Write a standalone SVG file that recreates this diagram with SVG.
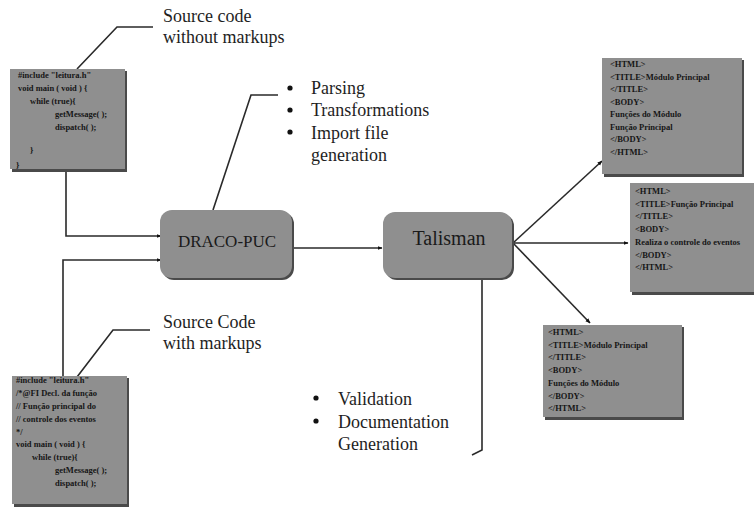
<svg xmlns="http://www.w3.org/2000/svg" width="754" height="507" viewBox="0 0 754 507" font-family="'Liberation Serif', 'Times New Roman', 'DejaVu Serif', serif">
<style>
.bg{fill:#ffffff}
.box{fill:#8f8f8f}
.shadow{fill:#4a4a4a}
text{font-family:"Liberation Serif","Times New Roman","DejaVu Serif",serif}
.code{font-size:8.5px;fill:#161616;font-weight:bold}
.lbl{font-size:18px;fill:#1e1e1e}
.node{fill:#1a1a1a}
.ln{fill:none;stroke:#2a2a2a;stroke-width:1.6}
</style>
<defs>
<marker id="arr" viewBox="0 0 10 10" refX="9" refY="5" markerWidth="5" markerHeight="5" orient="auto" markerUnits="userSpaceOnUse">
<path d="M0,1 L10,5 L0,9 Z" fill="#111"/>
</marker>
</defs>
<rect class="bg" x="0" y="0" width="754" height="507"/>

<g id="connectors">
<polyline class="ln" points="66,171 66,236 161,236" marker-end="url(#arr)"/>
<polyline class="ln" points="63,378 63,260 161,260" marker-end="url(#arr)"/>
<polyline class="ln" points="77,69 117,27 153,27"/>
<polyline class="ln" points="77,377 113,330 150,330"/>
<polyline class="ln" points="213,210 251,95 278,95"/>
<line class="ln" x1="292" y1="248" x2="382" y2="248" marker-end="url(#arr)"/>
<line class="ln" x1="513" y1="243" x2="602" y2="161" marker-end="url(#arr)"/>
<line class="ln" x1="513" y1="243" x2="628" y2="243" marker-end="url(#arr)"/>
<line class="ln" x1="513" y1="243" x2="590" y2="323" marker-end="url(#arr)"/>
<polyline class="ln" points="482,279 482,450 472,455"/>
</g>

<g id="src-plain">
<rect class="shadow" x="12" y="71" width="115" height="101"/>
<rect class="box" x="10" y="69" width="115" height="100"/>
<text class="code" x="18" y="78">#include "leitura.h"</text>
<text class="code" x="18" y="91">void main ( void ) {</text>
<text class="code" x="30" y="104">while (true){</text>
<text class="code" x="55" y="117">getMessage( );</text>
<text class="code" x="55" y="130">dispatch( );</text>
<text class="code" x="30" y="153">}</text>
<text class="code" x="16" y="168">}</text>
</g>

<g id="src-markup">
<rect class="shadow" x="14" y="378" width="115" height="129"/>
<rect class="box" x="12" y="376" width="115" height="128"/>
<text class="code" x="16" y="383">#include "leitura.h"</text>
<text class="code" x="16" y="396">/*@FI Decl. da função</text>
<text class="code" x="16" y="409">// Função principal do</text>
<text class="code" x="16" y="422">// controle dos eventos</text>
<text class="code" x="16" y="435">*/</text>
<text class="code" x="16" y="447">void main ( void ) {</text>
<text class="code" x="32" y="460">while (true){</text>
<text class="code" x="55" y="473">getMessage( );</text>
<text class="code" x="55" y="486">dispatch( );</text>
</g>

<g id="label-plain">
<text class="lbl" x="163" y="22">Source code</text>
<text class="lbl" x="163" y="43">without markups</text>
</g>

<g id="label-markup">
<text class="lbl" x="163" y="328">Source Code</text>
<text class="lbl" x="163" y="349">with markups</text>
</g>

<g id="draco-notes">
<circle cx="290" cy="88" r="2.6" fill="#111"/>
<circle cx="290" cy="110" r="2.6" fill="#111"/>
<circle cx="290" cy="132" r="2.6" fill="#111"/>
<text class="lbl" x="311" y="94">Parsing</text>
<text class="lbl" x="311" y="116">Transformations</text>
<text class="lbl" x="311" y="139">Import file</text>
<text class="lbl" x="311" y="161">generation</text>
</g>

<g id="draco">
<rect class="shadow" x="162" y="212" width="132" height="68" rx="12"/>
<rect class="box" x="160" y="210" width="132" height="68" rx="12"/>
<text class="node" x="227" y="247" font-size="17" text-anchor="middle">DRACO-PUC</text>
</g>

<g id="talisman">
<rect class="shadow" x="385" y="214" width="129" height="66" rx="12"/>
<rect class="box" x="383" y="212" width="129" height="66" rx="12"/>
<text class="node" x="449" y="245" font-size="20" text-anchor="middle">Talisman</text>
</g>

<g id="talisman-notes">
<circle cx="316" cy="398" r="2.6" fill="#111"/>
<circle cx="316" cy="421" r="2.6" fill="#111"/>
<text class="lbl" x="338" y="405">Validation</text>
<text class="lbl" x="338" y="428">Documentation</text>
<text class="lbl" x="338" y="450">Generation</text>
</g>

<g id="html1">
<rect class="shadow" x="604" y="60" width="140" height="117"/>
<rect class="box" x="602" y="58" width="140" height="116"/>
<text class="code" x="610" y="67">&lt;HTML&gt;</text>
<text class="code" x="610" y="79.5">&lt;TITLE&gt;Módulo Principal</text>
<text class="code" x="610" y="92">&lt;/TITLE&gt;</text>
<text class="code" x="610" y="104.5">&lt;BODY&gt;</text>
<text class="code" x="610" y="117">Funções do Módulo</text>
<text class="code" x="610" y="129.5">Função Principal</text>
<text class="code" x="610" y="142">&lt;/BODY&gt;</text>
<text class="code" x="610" y="154.5">&lt;/HTML&gt;</text>
</g>

<g id="html2">
<rect class="shadow" x="632" y="185" width="124" height="110"/>
<rect class="box" x="630" y="183" width="124" height="109"/>
<text class="code" x="635" y="194">&lt;HTML&gt;</text>
<text class="code" x="635" y="207">&lt;TITLE&gt;Função Principal</text>
<text class="code" x="635" y="219">&lt;/TITLE&gt;</text>
<text class="code" x="635" y="232">&lt;BODY&gt;</text>
<text class="code" x="635" y="245">Realiza o controle do eventos</text>
<text class="code" x="635" y="258">&lt;/BODY&gt;</text>
<text class="code" x="635" y="270">&lt;/HTML&gt;</text>
</g>

<g id="html3">
<rect class="shadow" x="545" y="327" width="139" height="93"/>
<rect class="box" x="543" y="325" width="139" height="92"/>
<text class="code" x="548" y="335">&lt;HTML&gt;</text>
<text class="code" x="548" y="348">&lt;TITLE&gt;Módulo Principal</text>
<text class="code" x="548" y="360">&lt;/TITLE&gt;</text>
<text class="code" x="548" y="373">&lt;BODY&gt;</text>
<text class="code" x="548" y="386">Funções do Módulo</text>
<text class="code" x="548" y="399">&lt;/BODY&gt;</text>
<text class="code" x="548" y="411">&lt;/HTML&gt;</text>
</g>
</svg>
